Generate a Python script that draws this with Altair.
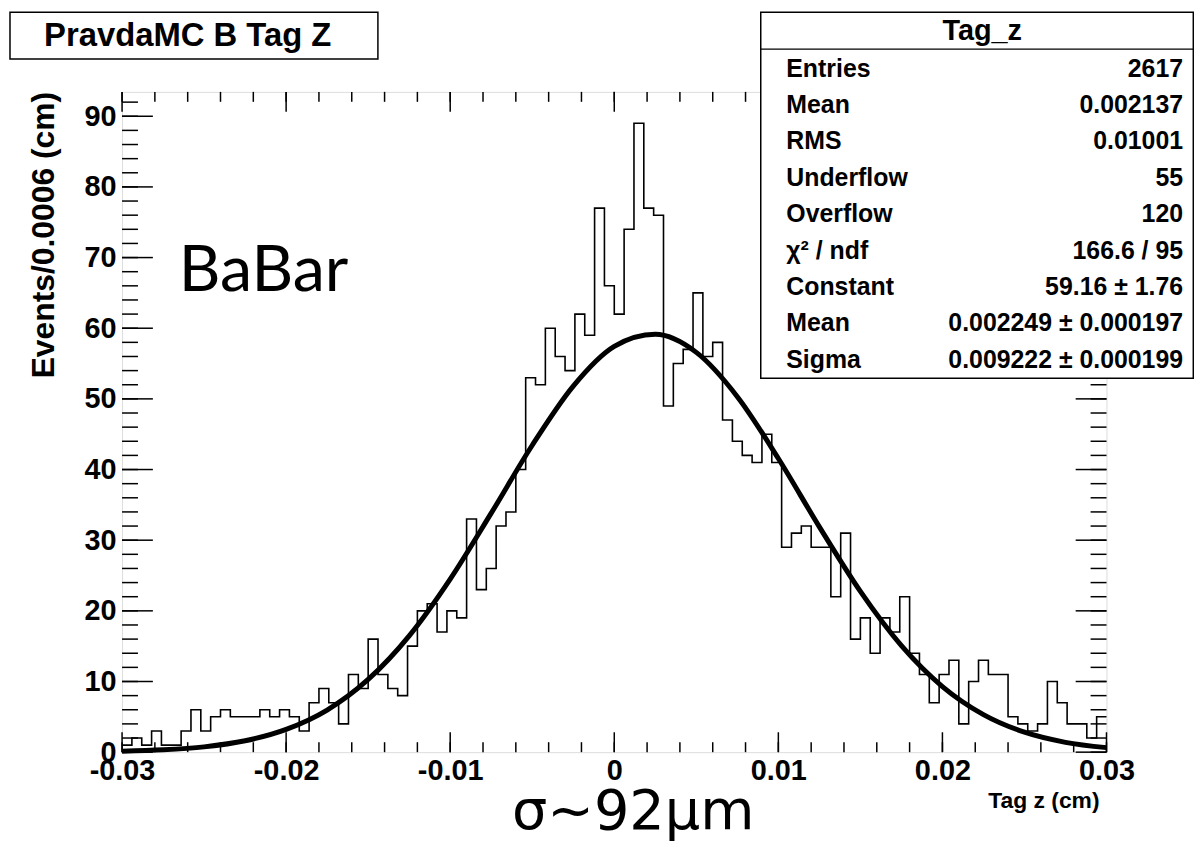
import altair as alt
import pandas as pd

# ---------------- data ----------------
counts = [1, 2, 1, 3, 1, 1, 3, 6, 3, 5,
          6, 5, 5, 5, 6, 5, 6, 5, 3, 7,
          9, 7, 4, 11, 9, 16, 11, 9, 8, 15,
          20, 21, 17, 20, 19, 33, 23, 26, 32, 34,
          40, 53, 52, 60, 56, 54, 62, 59, 77, 66,
          62, 74, 89, 77, 76, 49, 55, 57, 65, 56,
          58, 47, 44, 42, 41, 45, 41, 29, 31, 32,
          29, 29, 22, 31, 16, 19, 14, 19, 17, 22,
          14, 11, 7, 11, 13, 4, 10, 13, 11, 11,
          5, 4, 3, 4, 10, 7, 4, 4, 2, 5]
x_lo, x_hi = -0.03, 0.03
bin_w = 0.0006

fit_x = [-0.03, -0.0275, -0.025, -0.0225, -0.02, -0.0175, -0.015, -0.0125,
         -0.01, -0.0075, -0.005, -0.0025, 0.0, 0.0025, 0.005, 0.0075, 0.01,
         0.0125, 0.015, 0.0175, 0.02, 0.0225, 0.025, 0.0275, 0.03]
fit_y = [0.13, 0.33, 0.75, 1.61, 3.22, 5.96, 10.29, 16.46, 24.49, 33.83,
         43.44, 51.81, 57.43, 59.14, 56.58, 50.31, 41.56, 31.89, 22.75,
         15.07, 9.28, 5.31, 2.82, 1.39, 0.64]

x_major = [-0.03, -0.02, -0.01, 0.0, 0.01, 0.02, 0.03]
x_minor = [round(-0.03 + 0.002 * k, 4) for k in range(31)]
y_major = [0, 10, 20, 30, 40, 50, 60, 70, 80, 90]
y_minor = [2 * k for k in range(47)]

title_text = "PravdaMC B Tag Z"
stat_title = "Tag_z"
stat_names = ["Entries", "Mean", "RMS", "Underflow", "Overflow",
              "χ² / ndf", "Constant", "Mean", "Sigma"]
stat_values = ["2617", "0.002137", "0.01001", "55", "120", "166.6 / 95",
               "59.16 ± 1.76", "0.002249 ± 0.000197", "0.009222 ± 0.000199"]
y_title = "Events/0.0006 (cm)"
x_title = "Tag z (cm)"
note1 = "BaBar"
note2 = "σ~92μm"

# ---------------- layout ----------------
W, H = 990, 664
Y_MAX = 93.45
FONT = "Liberation Sans"

edges = [round(x_lo + bin_w * i, 6) for i in range(len(counts) + 1)]
hist_df = pd.DataFrame({"x": edges, "n": counts + [counts[-1]]})
fit_df = pd.DataFrame({"x": fit_x, "f": fit_y})

xs = alt.Scale(domain=[x_lo, x_hi], nice=False, zero=False, padding=0)
ys = alt.Scale(domain=[0, Y_MAX], nice=False, zero=False, padding=0)

one = pd.DataFrame({"a": [0]})

x_axis = alt.Axis(values=x_major, ticks=False, tickSize=0, domain=False, grid=False,
                  labelFont=FONT, labelFontWeight="bold", labelFontSize=29,
                  labelColor="black", labelPadding=5, title=None, labelFlush=False,
                  labelOverlap=False,
                  labelExpr="datum.value == 0 ? '0' : replace(format(datum.value, '.2f'), '\u2212', '-')")
y_axis = alt.Axis(values=y_major, ticks=False, tickSize=0, domain=False, grid=False,
                  labelFont=FONT, labelFontWeight="bold", labelFontSize=29,
                  labelColor="black", labelPadding=6, title=None, labelFlush=False,
                  labelOverlap=False)

hist = alt.Chart(hist_df).mark_line(interpolate="step-after", color="black",
                                     strokeWidth=1.6).encode(
    x=alt.X("x:Q", scale=xs, axis=x_axis),
    y=alt.Y("n:Q", scale=ys, axis=y_axis),
)

fit = alt.Chart(fit_df).mark_line(interpolate="monotone", color="black",
                                   strokeWidth=5).encode(
    x=alt.X("x:Q", scale=xs),
    y=alt.Y("f:Q", scale=ys),
)

layers = []

def xticks(vals, length):
    d = pd.DataFrame({"x": vals})
    bot = alt.Chart(d).mark_rule(color="black", strokeWidth=1.5).encode(
        x=alt.X("x:Q", scale=xs), y=alt.value(H), y2=alt.value(H - length))
    top = alt.Chart(d).mark_rule(color="black", strokeWidth=1.5).encode(
        x=alt.X("x:Q", scale=xs), y=alt.value(0), y2=alt.value(length))
    return [bot, top]

def yticks(vals, length):
    d = pd.DataFrame({"y": vals})
    left = alt.Chart(d).mark_rule(color="black", strokeWidth=1.5).encode(
        y=alt.Y("y:Q", scale=ys), x=alt.value(0), x2=alt.value(length))
    right = alt.Chart(d).mark_rule(color="black", strokeWidth=1.5).encode(
        y=alt.Y("y:Q", scale=ys), x=alt.value(W), x2=alt.value(W - length))
    return [left, right]

layers += xticks(x_minor, 10) + xticks(x_major, 20)
layers += yticks(y_minor, 16) + yticks(y_major, 31)
layers += [hist, fit]

def box(x1, x2, y1, y2):
    return alt.Chart(one).mark_rect(fill="white", stroke="black", strokeWidth=1.5).encode(
        x=alt.value(x1), x2=alt.value(x2), y=alt.value(y1), y2=alt.value(y2))

def txt(s, x, y, size, align="left", weight="bold", font=FONT, angle=0, baseline="middle"):
    return alt.Chart(one).mark_text(text=s, align=align, baseline=baseline, fontSize=size,
                                    fontWeight=weight, font=font, color="black",
                                    angle=angle).encode(x=alt.value(x), y=alt.value(y))

# title box
layers.append(box(-112.7, 257.3, -80, -33))
layers.append(txt(title_text, 66, -56, 33, align="center"))

# stats box
layers.append(box(642.3, 1077.3, -80, 288))
layers.append(alt.Chart(one).mark_rule(color="black", strokeWidth=1.5).encode(
    x=alt.value(642.3), x2=alt.value(1077.3), y=alt.value(-43)))
layers.append(txt(stat_title, 865, -61, 29, align="center"))
for k, (nm, val) in enumerate(zip(stat_names, stat_values)):
    yy = -23.3 + 36.6 * k
    layers.append(txt(nm, 668, yy, 25, align="left"))
    layers.append(txt(val, 1067, yy, 25, align="right"))

# axis titles
layers.append(txt(y_title, -78, 0, 32, align="right", angle=270))
layers.append(txt(x_title, 983, 713, 23, align="right"))

# annotations
layers.append(txt(note1, 57, 200, 65, align="left", weight="normal", font="Lato",
                  baseline="alphabetic"))
layers.append(txt(note2, 514, 741, 56, align="center", weight="normal", font="DejaVu Sans",
                  baseline="alphabetic"))

chart = alt.layer(*layers).properties(
    width=W, height=H,
    autosize=alt.AutoSizeParams(type="none"),
    padding={"left": 114.7, "top": 82, "right": 88, "bottom": 88},
).configure_view(stroke="black", strokeWidth=1.5).configure(background="white")

chart.save("out.html", embed_options={"renderer": "svg", "actions": False})
